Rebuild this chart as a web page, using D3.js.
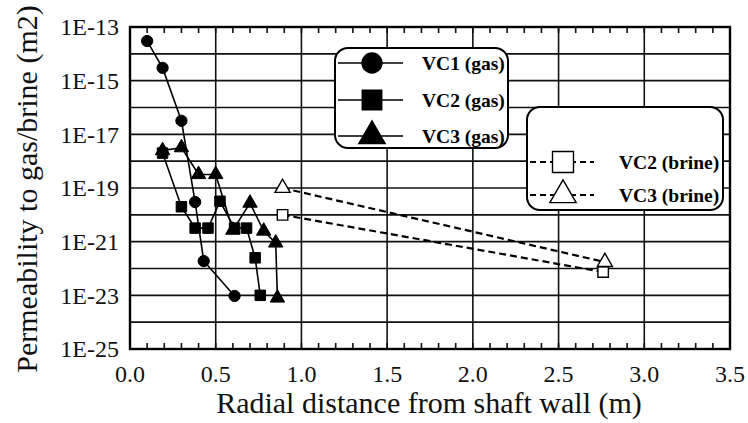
<!DOCTYPE html>
<html>
<head>
<meta charset="utf-8">
<script src="https://cdn.jsdelivr.net/npm/d3@7"></script>
<style>
  body { margin: 0; background: #fff; }
  svg { font-family: "Liberation Serif", "Times New Roman", serif; }
</style>
</head>
<body>
<div id="chart"></div>
<script>
(function () {
    // values
    var vc1X = [0.10, 0.19, 0.30, 0.38, 0.43, 0.61];
    var vc1K = [3e-14, 3e-15, 3.2e-17, 3e-20, 1.9e-22, 9.5e-24];

    var vc2X = [0.19, 0.30, 0.38, 0.455, 0.525, 0.61, 0.68, 0.73, 0.76];
    var vc2K = [2e-18, 2e-20, 3.2e-21, 3.2e-21, 3.2e-20, 3.2e-21, 3.2e-21, 2.5e-22, 1e-23];

    var vc3X = [0.19, 0.30, 0.40, 0.50, 0.60, 0.70, 0.78, 0.85, 0.86];
    var vc3K = [2.5e-18, 3.2e-18, 3.2e-19, 3.2e-19, 2.7e-21, 2.75e-20, 2.5e-21, 9e-22, 8e-24];

    var vc2bX = [0.89, 2.76];
    var vc2bK = [1e-20, 7.4e-23];
    var vc3bX = [0.89, 2.77];
    var vc3bK = [1e-19, 1.74e-22];

    var yTickExp = [-13, -15, -17, -19, -21, -23, -25];
    var xTicks = [0, 0.5, 1, 1.5, 2, 2.5, 3, 3.5];

    var width = 748, height = 423;
    var left = 130, right = 730, top = 27, bottom = 349;

    var x = d3.scaleLinear().domain([0, 3.5]).range([left, right]);
    var y = d3.scaleLog().domain([1e-25, 1e-13]).range([bottom, top]);

    var svg = d3.select("#chart").append("svg")
        .attr("width", width).attr("height", height);

    // grid
    var decades = d3.range(-25, -12).map(function (e) { return Math.pow(10, e); });
    svg.append("g").selectAll("line").data(decades).join("line")
        .attr("x1", left).attr("x2", right)
        .attr("y1", function (d) { return y(d); }).attr("y2", function (d) { return y(d); })
        .attr("stroke", "#111").attr("stroke-width", 1.6);
    svg.append("g").selectAll("line").data(xTicks).join("line")
        .attr("y1", top).attr("y2", bottom)
        .attr("x1", function (d) { return x(d); }).attr("x2", function (d) { return x(d); })
        .attr("stroke", "#111").attr("stroke-width", 1.6);

    // minor ticks every 0.1 on top and bottom
    var minor = d3.range(1, 35).map(function (i) { return i / 10; });
    svg.append("g").selectAll("line").data(minor).join("line")
        .attr("x1", function (d) { return x(d); }).attr("x2", function (d) { return x(d); })
        .attr("y1", bottom).attr("y2", bottom - 6)
        .attr("stroke", "#111").attr("stroke-width", 1.6);
    svg.append("g").selectAll("line").data(minor).join("line")
        .attr("x1", function (d) { return x(d); }).attr("x2", function (d) { return x(d); })
        .attr("y1", top).attr("y2", top + 6)
        .attr("stroke", "#111").attr("stroke-width", 1.6);

    svg.append("rect").attr("x", left).attr("y", top)
        .attr("width", right - left).attr("height", bottom - top)
        .attr("fill", "none").attr("stroke", "#000").attr("stroke-width", 2.4);

    // tick labels
    svg.append("g").selectAll("text").data(yTickExp).join("text")
        .attr("x", left - 11).attr("y", function (d) { return y(Math.pow(10, d)); })
        .attr("dy", "0.35em").attr("text-anchor", "end")
        .attr("font-size", 24).attr("fill", "#111")
        .text(function (d) { return "1E" + d; });
    svg.append("g").selectAll("text").data(xTicks).join("text")
        .attr("x", function (d) { return x(d); }).attr("y", 382)
        .attr("text-anchor", "middle").attr("font-size", 24).attr("fill", "#111")
        .text(function (d) { return d3.format(".1f")(d); });

    svg.append("text").attr("x", 429).attr("y", 413)
        .attr("text-anchor", "middle").attr("font-size", 30).attr("fill", "#111")
        .text("Radial distance from shaft wall (m)");
    svg.append("text").attr("transform", "translate(37,189) rotate(-90)")
        .attr("text-anchor", "middle").attr("font-size", 30).attr("fill", "#111")
        .text("Permeability to gas/brine (m2)");

    function pts(xs, ks) { return xs.map(function (v, i) { return [v, ks[i]]; }); }
    var line = d3.line().x(function (d) { return x(d[0]); }).y(function (d) { return y(d[1]); });

    function series(data, shape, filled, dashed, size) {
        var g = svg.append("g");
        g.append("path").datum(data).attr("d", line)
            .attr("fill", "none").attr("stroke", "#000").attr("stroke-width", dashed ? 2.2 : 1.6)
            .attr("stroke-dasharray", dashed ? "7,4" : null);
        g.selectAll("path.m").data(data).join("path").attr("class", "m")
            .attr("transform", function (d) {
                return "translate(" + x(d[0]) + "," + y(d[1]) + ")";
            })
            .attr("d", d3.symbol().type(shape).size(size))
            .attr("fill", filled ? "#000" : "#fff")
            .attr("stroke", "#000").attr("stroke-width", filled ? 1 : 1.4);
    }

    series(pts(vc2bX, vc2bK), d3.symbolSquare, false, true, 110);
    series(pts(vc3bX, vc3bK), d3.symbolTriangle, false, true, 100);
    series(pts(vc1X, vc1K), d3.symbolCircle, true, false, 100);
    series(pts(vc2X, vc2K), d3.symbolSquare, true, false, 110);
    series(pts(vc3X, vc3K), d3.symbolTriangle, true, false, 90);

    // legends
    function legend(bx, by, bw, bh, rows) {
        var g = svg.append("g");
        g.append("rect").attr("x", bx).attr("y", by).attr("width", bw).attr("height", bh)
            .attr("rx", 13).attr("fill", "#fff").attr("stroke", "#000").attr("stroke-width", 2);
        rows.forEach(function (r) {
            g.append("line").attr("x1", r.x1).attr("x2", r.x2).attr("y1", r.y).attr("y2", r.y)
                .attr("stroke", "#000").attr("stroke-width", r.dashed ? 2 : 1.6)
                .attr("stroke-dasharray", r.dashed ? "6,4" : null);
            g.append("path").attr("transform", "translate(" + r.mx + "," + r.y + ")")
                .attr("d", d3.symbol().type(r.shape).size(r.size))
                .attr("fill", r.filled ? "#000" : "#fff").attr("stroke", "#000").attr("stroke-width", 1.4);
            g.append("text").attr("x", r.tx).attr("y", r.y).attr("dy", "0.35em")
                .attr("font-size", 19.5).attr("font-weight", "bold").attr("fill", "#000")
                .text(r.label);
        });
    }

    legend(335, 48, 173, 100, [
        { y: 63, x1: 338, x2: 403, mx: 372, tx: 422, shape: d3.symbolCircle, filled: true, size: 310, label: "VC1 (gas)" },
        { y: 100, x1: 338, x2: 403, mx: 372, tx: 422, shape: d3.symbolSquare, filled: true, size: 380, label: "VC2 (gas)" },
        { y: 136, x1: 338, x2: 403, mx: 372, tx: 422, shape: d3.symbolTriangle, filled: true, size: 300, label: "VC3 (gas)" }
    ]);
    legend(527, 107, 196, 103, [
        { y: 162, x1: 530, x2: 594, mx: 563, tx: 619, shape: d3.symbolSquare, filled: false, size: 440, label: "VC2 (brine)", dashed: true },
        { y: 195, x1: 530, x2: 594, mx: 563, tx: 619, shape: d3.symbolTriangle, filled: false, size: 300, label: "VC3 (brine)", dashed: true }
    ]);
})();
</script>
</body>
</html>
